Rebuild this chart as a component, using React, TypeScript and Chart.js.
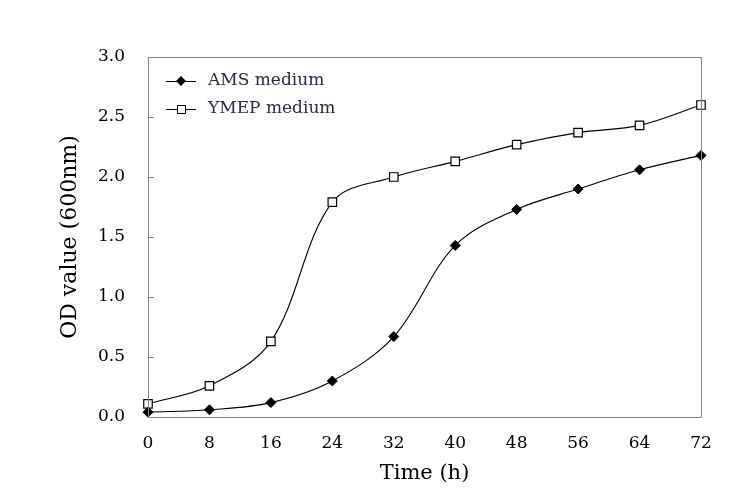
import React, { useEffect, useRef } from "react";
import { Chart, registerables } from "chart.js";

Chart.register(...registerables);

const hours = [0, 8, 16, 24, 32, 40, 48, 56, 64, 72];
const amsMedium = [0.04, 0.06, 0.12, 0.3, 0.67, 1.43, 1.73, 1.9, 2.06, 2.18];
const ymepMedium = [0.11, 0.26, 0.63, 1.79, 2.0, 2.13, 2.27, 2.37, 2.43, 2.6];
const seriesNames = ["AMS medium", "YMEP medium"];
const xTitle = "Time (h)";
const yTitle = "OD value (600nm)";

const FONT = "'DejaVu Serif', 'Liberation Serif', serif";
const AXIS_GREY = "#878787";

const frameAndTicks = {
  id: "frameAndTicks",
  afterDatasetsDraw(chart: any) {
    const { ctx, chartArea } = chart;
    const { left, right, top, bottom } = chartArea;
    ctx.save();
    ctx.strokeStyle = AXIS_GREY;
    ctx.lineWidth = 1;
    ctx.beginPath();
    ctx.rect(Math.round(left) + 0.5, Math.round(top) + 0.5, Math.round(right - left), Math.round(bottom - top));
    ctx.stroke();
    const y = chart.scales.y;
    ctx.beginPath();
    y.ticks.forEach((t: any) => {
      const py = Math.round(y.getPixelForValue(t.value)) + 0.5;
      ctx.moveTo(left, py);
      ctx.lineTo(left + 6, py);
    });
    ctx.stroke();
    ctx.restore();
  },
};

const lineLegend = {
  id: "lineLegend",
  afterDraw(chart: any) {
    const { ctx, chartArea } = chart;
    ctx.save();
    chart.data.datasets.forEach((ds: any, i: number) => {
      const y = chartArea.top + 24 + i * 28;
      const x0 = chartArea.left + 18;
      const x1 = x0 + 30;
      const cx = (x0 + x1) / 2;
      ctx.strokeStyle = "#000";
      ctx.lineWidth = 1;
      ctx.beginPath();
      ctx.moveTo(x0, y + 0.5);
      ctx.lineTo(x1, y + 0.5);
      ctx.stroke();
      ctx.beginPath();
      if (ds.pointStyle === "rectRot") {
        const r = 5;
        ctx.moveTo(cx, y - r);
        ctx.lineTo(cx + r, y);
        ctx.lineTo(cx, y + r);
        ctx.lineTo(cx - r, y);
        ctx.closePath();
        ctx.fillStyle = ds.pointBackgroundColor;
        ctx.fill();
      } else {
        const s = 4;
        ctx.rect(Math.round(cx - s) + 0.5, Math.round(y - s) + 0.5, 2 * s, 2 * s);
        ctx.fillStyle = ds.pointBackgroundColor;
        ctx.fill();
        ctx.strokeStyle = "#000";
        ctx.stroke();
      }
      ctx.fillStyle = "#2e2a48";
      ctx.font = `17px ${FONT}`;
      ctx.textBaseline = "middle";
      ctx.textAlign = "left";
      ctx.fillText(ds.label, x1 + 12, y);
    });
    ctx.restore();
  },
};

export default function App() {
  const canvasRef = useRef<HTMLCanvasElement | null>(null);

  useEffect(() => {
    document.body.style.margin = "0";
    const canvas = canvasRef.current;
    if (!canvas) return;
    const chart = new Chart(canvas, {
      type: "line",
      data: {
        datasets: [
          {
            label: seriesNames[0],
            data: hours.map((h, i) => ({ x: h, y: amsMedium[i] })),
            borderColor: "#000",
            borderWidth: 1.1,
            pointStyle: "rectRot",
            pointRadius: 5,
            pointBackgroundColor: "#000",
            pointBorderColor: "#000",
            pointBorderWidth: 1,
            tension: 0.35,
            clip: false,
          },
          {
            label: seriesNames[1],
            data: hours.map((h, i) => ({ x: h, y: ymepMedium[i] })),
            borderColor: "#000",
            borderWidth: 1.1,
            pointStyle: "rect",
            pointRadius: 6,
            pointBackgroundColor: "#fff",
            pointBorderColor: "#000",
            pointBorderWidth: 1.2,
            tension: 0.35,
            clip: false,
          },
        ],
      } as any,
      options: {
        animation: false,
        responsive: true,
        maintainAspectRatio: false,
        layout: { padding: { top: 57, right: 34, left: 0, bottom: 0 } },
        plugins: {
          legend: { display: false },
          tooltip: { enabled: false },
        },
        scales: {
          x: {
            type: "linear",
            min: 0,
            max: 72,
            grid: { display: false, drawTicks: false },
            border: { display: false },
            ticks: {
              stepSize: 8,
              padding: 16,
              color: "#000",
              font: { family: FONT, size: 17 },
            },
            title: {
              display: true,
              text: xTitle,
              color: "#000",
              font: { family: FONT, size: 21 },
              padding: { top: 0, bottom: 18 },
            },
            afterFit(scale: any) {
              scale.height = 87;
            },
          },
          y: {
            type: "linear",
            min: 0,
            max: 3,
            grid: { display: false, drawTicks: false },
            border: { display: false },
            ticks: {
              stepSize: 0.5,
              padding: 23,
              color: "#000",
              font: { family: FONT, size: 17 },
              callback: (v: any) => Number(v).toFixed(1),
            },
            title: {
              display: true,
              text: yTitle,
              color: "#000",
              font: { family: FONT, size: 22 },
              padding: { top: 57, bottom: 0 },
            },
            afterFit(scale: any) {
              scale.width = 148;
            },
          },
        },
      } as any,
      plugins: [frameAndTicks, lineLegend],
    });
    return () => chart.destroy();
  }, []);

  return (
    <div style={{ position: "relative", width: 735, height: 504 }}>
      <canvas ref={canvasRef} />
    </div>
  );
}
